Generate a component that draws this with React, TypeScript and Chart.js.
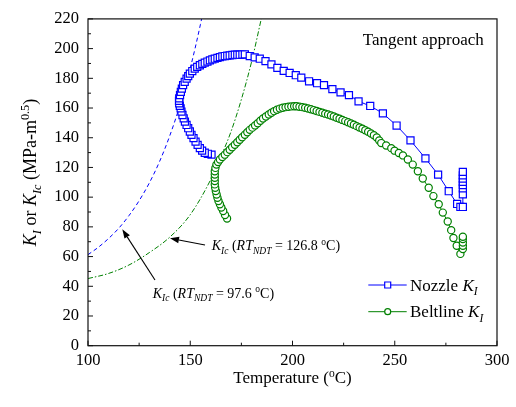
import React, { useEffect, useRef } from "react";
import { Chart, registerables } from "chart.js";

Chart.register(...registerables);

const FAMILY = "'Liberation Serif', 'Times New Roman', serif";

// Nozzle K_I (T in °C, K in MPa·m^0.5)
const nozzleT = [
  160.4, 158.6, 157.1, 155.8, 154.7, 153.6, 152.6, 151.6, 150.6, 149.8, 149.0, 148.2, 147.4, 146.8, 146.2, 145.7,
  145.3, 144.9, 144.6, 144.5, 144.6, 145.0, 145.4, 145.9, 146.5, 147.3, 148.2, 149.0, 149.8, 151.0, 152.2, 153.4,
  154.7, 155.9, 157.1, 158.4, 159.6, 160.8, 162.0, 163.3, 164.5, 165.7, 166.9, 168.1, 169.3, 170.6, 171.8, 173.0,
  174.2, 175.5, 176.7, 179.1, 181.5, 184.0, 186.8, 189.7, 192.6, 195.7, 198.6, 201.6, 204.3, 208.1, 212.0, 215.4,
  219.5, 223.5, 227.6, 232.3, 238.0, 244.2, 250.9, 257.7, 265.0, 271.2, 276.4, 280.5, 282.1, 283.3, 283.3, 283.3,
  283.3, 283.3, 283.3, 283.3, 283.3,
];
const nozzleK = [
  128.6, 129.2, 129.9, 131.3, 133.0, 135.2, 137.4, 139.7, 142.0, 144.2, 146.4, 148.6, 150.9, 153.1, 155.3, 157.6,
  159.8, 161.5, 163.2, 164.8, 166.5, 168.7, 170.9, 173.1, 175.4, 177.6, 179.8, 181.5, 183.2, 184.9, 186.5, 187.7,
  188.8, 189.7, 190.5, 191.3, 192.1, 192.7, 193.2, 193.8, 194.3, 194.7, 195.0, 195.2, 195.4, 195.7, 195.9, 195.9,
  195.9, 196.0, 196.1, 195.0, 194.1, 193.2, 191.6, 189.4, 187.0, 185.0, 183.6, 182.1, 180.5, 178.0, 176.7, 175.4,
  172.7, 170.5, 168.7, 164.5, 161.4, 156.4, 148.2, 138.2, 126.1, 115.2, 104.0, 95.4, 93.4, 93.4, 101.9, 105.9,
  108.1, 110.3, 112.5, 114.7, 117.0,
];

// Beltline K_I
const beltT = [
  168.0, 167.0, 166.1, 165.2, 164.5, 163.8, 163.3, 162.9, 162.5, 162.2, 162.0, 162.0, 162.0, 162.0, 162.0, 162.3,
  162.8, 163.6, 164.5, 165.7, 166.9, 168.1, 169.3, 170.5, 171.8, 173.0, 174.2, 175.4, 176.7, 177.9, 179.1, 180.4,
  181.7, 183.0, 184.3, 185.6, 187.0, 188.4, 189.7, 191.0, 192.4, 193.8, 195.2, 196.6, 198.0, 199.4, 200.8, 202.0,
  203.4, 204.8, 206.2, 207.6, 209.0, 210.4, 211.8, 213.2, 214.6, 216.0, 217.4, 218.8, 220.2, 221.6, 223.0, 224.4,
  225.8, 227.2, 228.6, 230.0, 231.4, 232.8, 234.2, 235.6, 237.0, 238.4, 239.8, 241.2, 242.4, 243.4, 245.8, 248.3,
  249.9, 252.0, 254.0, 256.4, 258.8, 261.3, 263.7, 266.6, 268.9, 271.5, 273.5, 275.9, 277.6, 278.7, 280.3, 282.1,
  283.3, 283.3, 283.3, 283.3, 283.3,
];
const beltK = [
  85.6, 88.0, 90.7, 93.0, 95.2, 97.4, 99.6, 101.8, 104.1, 106.3, 108.6, 110.8, 113.0, 115.2, 117.4, 119.7,
  121.9, 123.6, 125.3, 127.0, 128.6, 130.3, 131.9, 133.6, 135.3, 137.0, 138.6, 140.3, 142.0, 143.7, 145.3, 146.8,
  148.3, 149.8, 151.4, 152.9, 154.3, 155.6, 156.8, 157.9, 158.8, 159.6, 160.2, 160.6, 160.9, 161.1, 161.2, 161.2,
  160.9, 160.6, 160.2, 159.7, 159.2, 158.6, 158.0, 157.4, 156.8, 156.2, 155.6, 155.0, 154.3, 153.5, 152.8, 152.0,
  151.2, 150.4, 149.6, 148.7, 147.8, 146.9, 146.0, 145.0, 144.0, 142.9, 141.7, 140.2, 138.2, 136.4, 134.8, 133.0,
  131.3, 129.7, 128.1, 125.3, 121.9, 117.4, 112.6, 106.3, 100.7, 95.2, 89.6, 83.6, 77.8, 72.5, 67.3, 61.8,
  65.1, 67.3, 69.5, 71.8, 73.3,
];

// K_Ic curves
const kic976T = [100, 105, 110, 115, 120, 125, 130, 135, 140, 145, 150, 155, 157];
const kic976K = [61.3, 66.2, 72.1, 79.0, 87.5, 97.6, 109.6, 124.0, 141.4, 162.1, 186.8, 216.4, 230.0];
const kic1268T = [100, 110, 120, 130, 140, 150, 160, 165, 170, 175, 180, 185];
const kic1268K = [45.2, 48.6, 54.3, 62.7, 73.1, 88.2, 111.8, 127.3, 144.4, 165.8, 191.2, 221.7];

const xTicks = [100, 150, 200, 250, 300];
const yTicks = [0, 20, 40, 60, 80, 100, 120, 140, 160, 180, 200, 220];

const BLUE = "#0000ff";
const GREEN = "#008000";

type Seg = { t: string; i?: boolean; sub?: boolean; sup?: boolean };

function drawRich(ctx: CanvasRenderingContext2D, segs: Seg[], x: number, y: number, size: number, align = "left") {
  const parts = segs.map((s) => {
    const fs = s.sub || s.sup ? size * 0.68 : size;
    const font = `${s.i ? "italic " : ""}${fs}px ${FAMILY}`;
    ctx.font = font;
    return { ...s, font, w: ctx.measureText(s.t).width, dy: s.sub ? size * 0.25 : s.sup ? -size * 0.38 : 0 };
  });
  const total = parts.reduce((a, p) => a + p.w, 0);
  let cx = align === "center" ? x - total / 2 : x;
  ctx.textAlign = "left";
  ctx.textBaseline = "alphabetic";
  ctx.fillStyle = "#000";
  for (const p of parts) {
    ctx.font = p.font;
    ctx.fillText(p.t, cx, y + p.dy);
    cx += p.w;
  }
}

function arrow(ctx: CanvasRenderingContext2D, x0: number, y0: number, x1: number, y1: number) {
  const ang = Math.atan2(y1 - y0, x1 - x0);
  const hl = 9, hw = 3.2;
  const bx = x1 - hl * Math.cos(ang), by = y1 - hl * Math.sin(ang);
  ctx.strokeStyle = "#000";
  ctx.lineWidth = 1.1;
  ctx.beginPath();
  ctx.moveTo(x0, y0);
  ctx.lineTo(bx, by);
  ctx.stroke();
  ctx.fillStyle = "#000";
  ctx.beginPath();
  ctx.moveTo(x1, y1);
  ctx.lineTo(bx - hw * Math.sin(ang), by + hw * Math.cos(ang));
  ctx.lineTo(bx + hw * Math.sin(ang), by - hw * Math.cos(ang));
  ctx.closePath();
  ctx.fill();
}

const overlay = {
  id: "overlay",
  afterDraw(chart: any) {
    const ctx: CanvasRenderingContext2D = chart.ctx;
    const { left, right, top, bottom } = chart.chartArea;
    const xs = chart.scales.x, ys = chart.scales.y;
    ctx.save();
    // frame
    ctx.strokeStyle = "#111";
    ctx.lineWidth = 1.2;
    ctx.strokeRect(left, top, right - left, bottom - top);
    // ticks
    ctx.lineWidth = 1;
    ctx.beginPath();
    for (let v = 100; v <= 300; v += 25) {
      const px = xs.getPixelForValue(v);
      const len = v % 50 === 0 ? 5 : 3;
      ctx.moveTo(px, bottom);
      ctx.lineTo(px, bottom - len);
    }
    for (let v = 0; v <= 220; v += 10) {
      const py = ys.getPixelForValue(v);
      const len = v % 20 === 0 ? 5 : 3;
      ctx.moveTo(left, py);
      ctx.lineTo(left + len, py);
    }
    ctx.stroke();

    // axis titles
    drawRich(ctx, [{ t: "Temperature (" }, { t: "o", sup: true }, { t: "C)" }], (left + right) / 2, 383, 17, "center");
    ctx.save();
    ctx.translate(36, 172.5);
    ctx.rotate(-Math.PI / 2);
    drawRich(
      ctx,
      [
        { t: "K", i: true },
        { t: "I", i: true, sub: true },
        { t: " or " },
        { t: "K", i: true },
        { t: "Ic", i: true, sub: true },
        { t: " (MPa-m" },
        { t: "0.5", sup: true },
        { t: ")" },
      ],
      0,
      0,
      18,
      "center"
    );
    ctx.restore();

    // corner label
    drawRich(ctx, [{ t: "Tangent approach" }], 362.7, 45, 17);

    // annotations
    drawRich(
      ctx,
      [
        { t: "K", i: true },
        { t: "Ic", i: true, sub: true },
        { t: " (" },
        { t: "RT", i: true },
        { t: "NDT", i: true, sub: true },
        { t: " = 126.8 " },
        { t: "o", sup: true },
        { t: "C)" },
      ],
      211.7,
      250,
      14
    );
    drawRich(
      ctx,
      [
        { t: "K", i: true },
        { t: "Ic", i: true, sub: true },
        { t: " (" },
        { t: "RT", i: true },
        { t: "NDT", i: true, sub: true },
        { t: " = 97.6 " },
        { t: "o", sup: true },
        { t: "C)" },
      ],
      152.7,
      297.5,
      14
    );
    arrow(ctx, 205, 245, 170, 238.3);
    arrow(ctx, 155, 280, 122.3, 229.3);

    // legend
    const lx0 = 368.3, lx1 = 406.7, mx = 387.7;
    const rows = [
      { y: 285, color: BLUE, shape: "rect", label: "Nozzle " },
      { y: 311.7, color: GREEN, shape: "circle", label: "Beltline " },
    ];
    for (const r of rows) {
      ctx.strokeStyle = r.color;
      ctx.lineWidth = 1;
      ctx.beginPath();
      ctx.moveTo(lx0, r.y);
      ctx.lineTo(lx1, r.y);
      ctx.stroke();
      ctx.fillStyle = "#fff";
      ctx.lineWidth = 1.2;
      ctx.beginPath();
      if (r.shape === "rect") ctx.rect(mx - 3, r.y - 3, 6, 6);
      else ctx.arc(mx, r.y, 3, 0, Math.PI * 2);
      ctx.fill();
      ctx.stroke();
      drawRich(ctx, [{ t: r.label }, { t: "K", i: true }, { t: "I", i: true, sub: true }], 410, r.y + 5.7, 17);
    }
    ctx.restore();
  },
};

function pts(xs: number[], ys: number[]) {
  return xs.map((x, i) => ({ x, y: ys[i] }));
}

export default function App() {
  const ref = useRef<HTMLCanvasElement | null>(null);
  useEffect(() => {
    if (!ref.current) return;
    const tickFont = { family: FAMILY, size: 16.5 };
    const chart = new Chart(ref.current, {
      type: "scatter",
      data: {
        datasets: [
          {
            label: "Nozzle",
            data: pts(nozzleT, nozzleK),
            showLine: true,
            borderColor: BLUE,
            borderWidth: 1,
            pointStyle: "rect",
            pointRadius: 5,
            pointBorderWidth: 1.2,
            pointBorderColor: BLUE,
            pointBackgroundColor: "#fff",
          },
          {
            label: "Beltline",
            data: pts(beltT, beltK),
            showLine: true,
            borderColor: GREEN,
            borderWidth: 1,
            pointStyle: "circle",
            pointRadius: 3.6,
            pointBorderWidth: 1.2,
            pointBorderColor: GREEN,
            pointBackgroundColor: "#fff",
          },
          {
            label: "KIc 97.6",
            data: pts(kic976T, kic976K),
            showLine: true,
            borderColor: BLUE,
            borderWidth: 1,
            borderDash: [4, 3],
            pointRadius: 0,
            cubicInterpolationMode: "monotone",
          },
          {
            label: "KIc 126.8",
            data: pts(kic1268T, kic1268K),
            showLine: true,
            borderColor: GREEN,
            borderWidth: 1,
            borderDash: [5, 2, 1.5, 2],
            pointRadius: 0,
            cubicInterpolationMode: "monotone",
          },
        ] as any,
      },
      options: {
        animation: false,
        responsive: false,
        maintainAspectRatio: false,
        events: [],
        layout: { padding: { left: 0, right: 19, top: 17, bottom: 0 } },
        plugins: { legend: { display: false }, tooltip: { enabled: false } },
        scales: {
          x: {
            type: "linear",
            min: 100,
            max: 300,
            afterFit: (s: any) => {
              s.height = 61.3;
            },
            afterBuildTicks: (s: any) => {
              s.ticks = xTicks.map((v) => ({ value: v }));
            },
            ticks: { font: tickFont, color: "#000", padding: 5, maxRotation: 0 },
            grid: { display: false, drawTicks: false },
            border: { display: false },
          },
          y: {
            type: "linear",
            min: 0,
            max: 220,
            afterFit: (s: any) => {
              s.width = 88;
            },
            afterBuildTicks: (s: any) => {
              s.ticks = yTicks.map((v) => ({ value: v }));
            },
            ticks: { font: tickFont, color: "#000", padding: 9 },
            grid: { display: false, drawTicks: false },
            border: { display: false },
          },
        },
      } as any,
      plugins: [overlay],
    });
    return () => chart.destroy();
  }, []);
  return (
    <div style={{ position: "absolute", left: 0, top: 0, width: 516, height: 407, background: "#fff" }}>
      <canvas ref={ref} width={516} height={407} style={{ display: "block" }} />
    </div>
  );
}
